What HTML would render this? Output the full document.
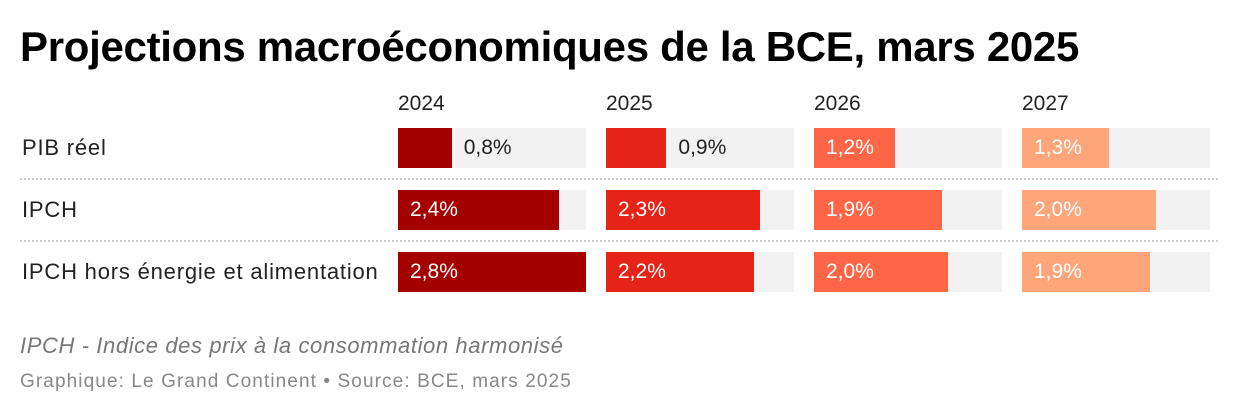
<!DOCTYPE html>
<html><head><meta charset="utf-8"><style>
body{margin:0;width:1240px;height:416px;background:#fff;font-family:"Liberation Sans",sans-serif;position:relative;overflow:hidden}
.t{position:absolute;white-space:nowrap}
</style></head><body>
<div class="t" style="left:20px;top:23px;font-size:42px;font-weight:bold;color:#000;letter-spacing:-0.3px">Projections macroéconomiques de la BCE, mars 2025</div>
<div id="chart"></div>
<div class="t" style="left:20px;top:333px;font-size:22px;letter-spacing:0.6px;font-style:italic;color:#777">IPCH - Indice des prix à la consommation harmonisé</div>
<div class="t" style="left:20px;top:371px;font-size:19px;letter-spacing:1.1px;color:#888">Graphique: Le Grand Continent • Source: BCE, mars 2025</div>
<script>
const years=["2024","2025","2026","2027"];
const rows=["PIB réel","IPCH","IPCH hors énergie et alimentation"];
const v2024=[0.8,2.4,2.8];
const v2025=[0.9,2.3,2.2];
const v2026=[1.2,1.9,2.0];
const v2027=[1.3,2.0,1.9];
const series=[v2024,v2025,v2026,v2027];
const colors=["#a50000","#e52317","#ff6647","#ffa57a"];
const maxV=2.8, colX=[398,606,814,1022], colW=188, rowY=[128,190,252], barH=40;
const x=v=>v/maxV*colW;
const c=document.getElementById('chart');
function div(css,txt){const d=document.createElement('div');d.className='t';d.style.cssText=css;if(txt!==undefined)d.textContent=txt;c.appendChild(d);return d;}
years.forEach((y,j)=>{const d=div(`left:${colX[j]}px;top:92px;font-size:21px;color:#222`,y);

});
rows.forEach((r,i)=>{
 const l=div(`left:22px;top:${rowY[i]+7}px;font-size:22px;letter-spacing:0.8px;color:#222`,r);
 
 
 if(i>0){const s=div(`left:20px;top:${rowY[i]-12}px;width:1198px;height:0;border-top:2px dotted #ccc`);
 
 }
 series.forEach((sv,j)=>{
  const bg=div(`left:${colX[j]}px;top:${rowY[i]}px;width:${colW}px;height:${barH}px;background:#f2f2f2`);
  
  
  const w=x(sv[i]);
  const b=div(`left:${colX[j]}px;top:${rowY[i]}px;width:${w}px;height:${barH}px;background:${colors[j]}`);
  
  
  const inside=w>70;
  const txt=sv[i].toFixed(1).replace('.',',')+'%';
  const lb=div(`left:${colX[j]+(inside?12:w+12)}px;top:${rowY[i]+8}px;font-size:21px;color:${inside?'#fff':'#222'}`,txt);
  
  
 });
});
</script>
</body></html>
